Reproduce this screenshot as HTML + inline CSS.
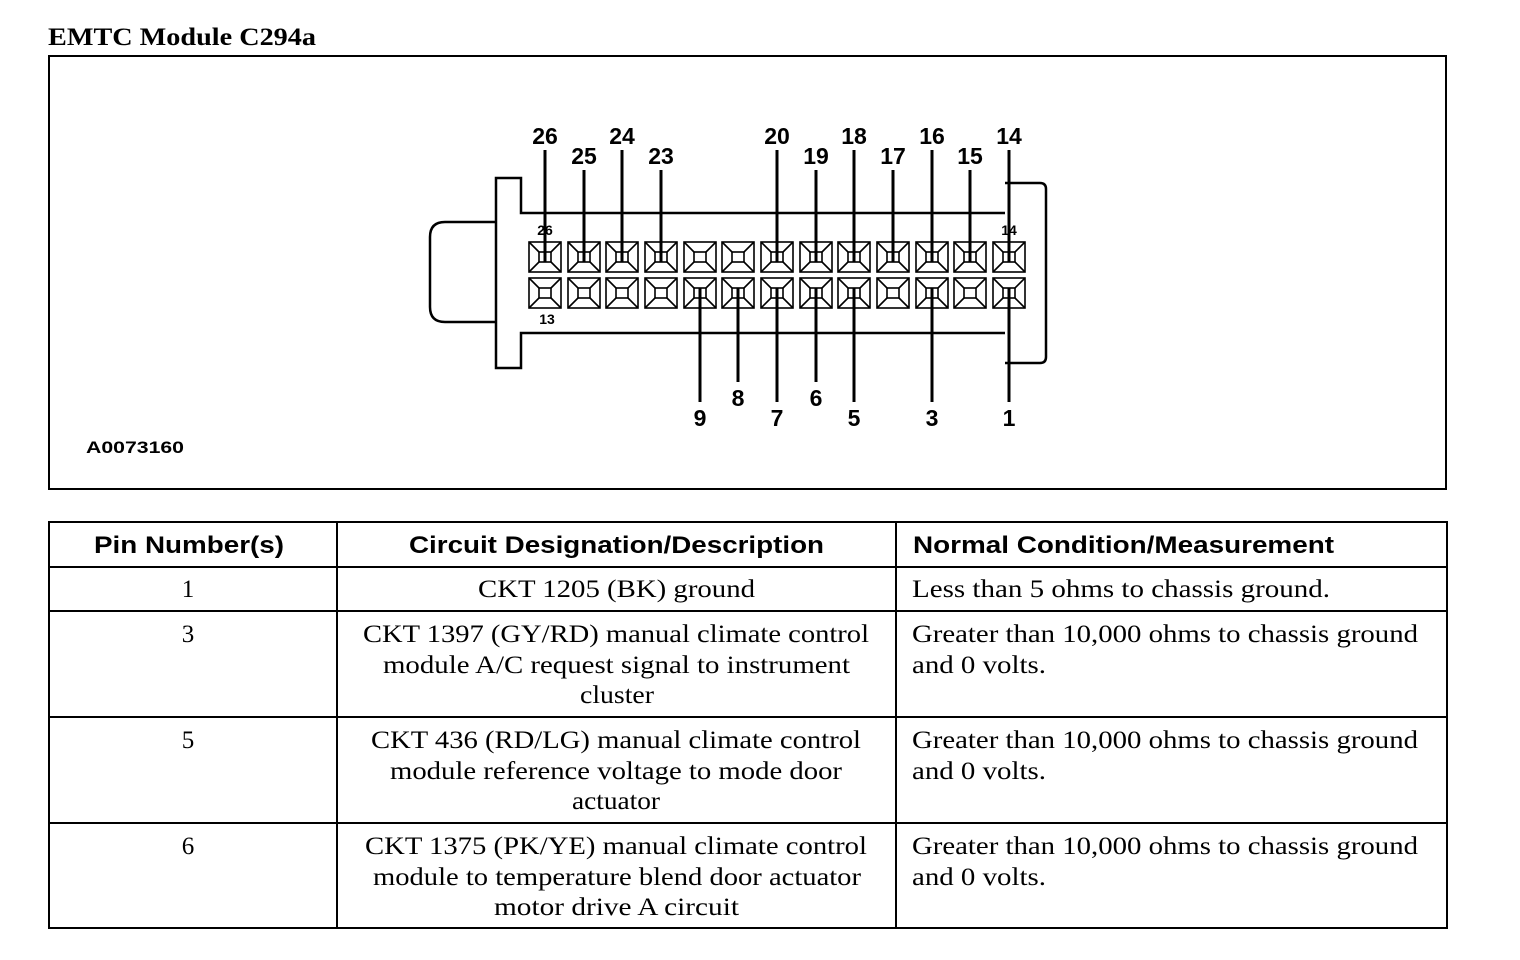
<!DOCTYPE html>
<html><head><meta charset="utf-8"><style>
html,body{margin:0;padding:0;background:#fff;}
svg{display:block}
.s{font-family:"Liberation Sans",sans-serif;font-weight:bold}
.r{font-family:"Liberation Serif",serif;font-size:25px}
</style></head><body>
<svg width="1520" height="960" viewBox="0 0 1520 960" xmlns="http://www.w3.org/2000/svg">
<defs>
<g id="t" fill="none" stroke="#000" stroke-width="1.6">
<rect x="-16" y="-15" width="32" height="30"/>
<rect x="-6" y="-5" width="12" height="10"/>
<path d="M-16 -15L-6 -5M16 -15L6 -5M-16 15L-6 5M16 15L6 5"/>
</g>
</defs>
<text x="48" y="45" font-family="Liberation Serif,serif" font-weight="bold" font-size="25" textLength="268" lengthAdjust="spacingAndGlyphs">EMTC Module C294a</text>
<rect x="49" y="56" width="1397" height="433" fill="none" stroke="#000" stroke-width="2"/>
<g fill="none" stroke="#000" stroke-width="2.5">
<path d="M496 222H445Q430 222 430 237V307Q430 322 445 322H496"/>
<path d="M1005 213H521V178H496V368H521V333H1005"/>
<path d="M1005 183H1040Q1046 183 1046 189V357Q1046 363 1040 363H1005"/>
</g>
<g>
<use href="#t" x="545" y="257"/><use href="#t" x="584" y="257"/><use href="#t" x="622" y="257"/><use href="#t" x="661" y="257"/><use href="#t" x="700" y="257"/><use href="#t" x="738" y="257"/><use href="#t" x="777" y="257"/><use href="#t" x="816" y="257"/><use href="#t" x="854" y="257"/><use href="#t" x="893" y="257"/><use href="#t" x="932" y="257"/><use href="#t" x="970" y="257"/><use href="#t" x="1009" y="257"/>
<use href="#t" x="545" y="293"/><use href="#t" x="584" y="293"/><use href="#t" x="622" y="293"/><use href="#t" x="661" y="293"/><use href="#t" x="700" y="293"/><use href="#t" x="738" y="293"/><use href="#t" x="777" y="293"/><use href="#t" x="816" y="293"/><use href="#t" x="854" y="293"/><use href="#t" x="893" y="293"/><use href="#t" x="932" y="293"/><use href="#t" x="970" y="293"/><use href="#t" x="1009" y="293"/>
</g>
<g stroke="#000" stroke-width="3">
<path d="M545 150V262M622 150V262M777 150V262M854 150V262M932 150V262M1009 150V262"/>
<path d="M584 170V262M661 170V262M816 170V262M893 170V262M970 170V262"/>
<path d="M700 288V402M777 288V402M854 288V402M932 288V402M1009 288V402"/>
<path d="M738 288V382M816 288V382"/>
</g>
<g class="s" font-size="23" text-anchor="middle">
<text x="545" y="144">26</text><text x="622" y="144">24</text><text x="777" y="144">20</text><text x="854" y="144">18</text><text x="932" y="144">16</text><text x="1009" y="144">14</text>
<text x="584" y="164">25</text><text x="661" y="164">23</text><text x="816" y="164">19</text><text x="893" y="164">17</text><text x="970" y="164">15</text>
<text x="700" y="426">9</text><text x="777" y="426">7</text><text x="854" y="426">5</text><text x="932" y="426">3</text><text x="1009" y="426">1</text>
<text x="738" y="406">8</text><text x="816" y="406">6</text>
</g>
<g class="s" font-size="14" text-anchor="middle"><text x="545" y="235">26</text><text x="1009" y="235">14</text><text x="547" y="324">13</text></g>
<text class="s" x="86" y="453" font-size="17" textLength="98" lengthAdjust="spacingAndGlyphs">A0073160</text>
<g fill="none" stroke="#000" stroke-width="2">
<rect x="49" y="522" width="1398" height="406"/>
<path d="M49 567H1447M49 611H1447M49 717H1447M49 823H1447M337 522V928M896 522V928"/>
</g>
<g class="s" font-size="24">
<text x="94" y="553" textLength="190" lengthAdjust="spacingAndGlyphs">Pin Number(s)</text>
<text x="409" y="553" textLength="415" lengthAdjust="spacingAndGlyphs">Circuit Designation/Description</text>
<text x="913" y="553" textLength="421" lengthAdjust="spacingAndGlyphs">Normal Condition/Measurement</text>
</g>
<g class="r">
<text x="188" y="597" text-anchor="middle">1</text>
<text x="188" y="642" text-anchor="middle">3</text>
<text x="188" y="748" text-anchor="middle">5</text>
<text x="188" y="854" text-anchor="middle">6</text>
<text x="478" y="597" textLength="277" lengthAdjust="spacingAndGlyphs">CKT 1205 (BK) ground</text>
<text x="912" y="597" textLength="418" lengthAdjust="spacingAndGlyphs">Less than 5 ohms to chassis ground.</text>
<text x="363" y="642" textLength="506" lengthAdjust="spacingAndGlyphs">CKT 1397 (GY/RD) manual climate control</text>
<text x="383" y="673" textLength="467" lengthAdjust="spacingAndGlyphs">module A/C request signal to instrument</text>
<text x="580" y="703" textLength="74" lengthAdjust="spacingAndGlyphs">cluster</text>
<text x="371" y="748" textLength="490" lengthAdjust="spacingAndGlyphs">CKT 436 (RD/LG) manual climate control</text>
<text x="390" y="779" textLength="452" lengthAdjust="spacingAndGlyphs">module reference voltage to mode door</text>
<text x="572" y="809" textLength="88" lengthAdjust="spacingAndGlyphs">actuator</text>
<text x="365" y="854" textLength="502" lengthAdjust="spacingAndGlyphs">CKT 1375 (PK/YE) manual climate control</text>
<text x="373" y="885" textLength="488" lengthAdjust="spacingAndGlyphs">module to temperature blend door actuator</text>
<text x="494" y="915" textLength="245" lengthAdjust="spacingAndGlyphs">motor drive A circuit</text>
<text x="912" y="642" textLength="506" lengthAdjust="spacingAndGlyphs">Greater than 10,000 ohms to chassis ground</text>
<text x="912" y="673" textLength="134" lengthAdjust="spacingAndGlyphs">and 0 volts.</text>
<text x="912" y="748" textLength="506" lengthAdjust="spacingAndGlyphs">Greater than 10,000 ohms to chassis ground</text>
<text x="912" y="779" textLength="134" lengthAdjust="spacingAndGlyphs">and 0 volts.</text>
<text x="912" y="854" textLength="506" lengthAdjust="spacingAndGlyphs">Greater than 10,000 ohms to chassis ground</text>
<text x="912" y="885" textLength="134" lengthAdjust="spacingAndGlyphs">and 0 volts.</text>
</g>
</svg>
</body></html>
